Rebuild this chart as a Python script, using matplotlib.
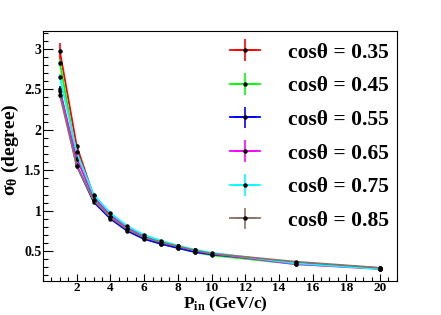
import matplotlib
matplotlib.use("Agg")
import matplotlib.pyplot as plt
import matplotlib.transforms as mtransforms
from matplotlib.ticker import MultipleLocator, FuncFormatter

# momentum points (GeV/c)
p_in = [1, 2, 3, 4, 5, 6, 7, 8, 9, 10, 15, 20]

cos_labels = ["0.35", "0.45", "0.55", "0.65", "0.75", "0.85"]
colors = ["#ff0000", "#00ff00", "#0000ff", "#ff00ff", "#00ffff", "#8b7365"]

# sigma_theta (degree) per cos(theta) bin
sig_035 = [2.97, 1.80, 1.18, 0.94, 0.78, 0.67, 0.60, 0.55, 0.50, 0.46, 0.35, 0.285]
sig_045 = [2.83, 1.66, 1.15, 0.93, 0.77, 0.66, 0.59, 0.54, 0.49, 0.45, 0.34, 0.29]
sig_055 = [2.50, 1.56, 1.11, 0.90, 0.75, 0.65, 0.59, 0.54, 0.49, 0.46, 0.36, 0.29]
sig_065 = [2.48, 1.64, 1.17, 0.95, 0.79, 0.69, 0.61, 0.56, 0.51, 0.47, 0.34, 0.28]
sig_075 = [2.65, 1.72, 1.20, 0.97, 0.81, 0.70, 0.63, 0.57, 0.52, 0.48, 0.35, 0.28]
sig_085 = [2.43, 1.55, 1.13, 0.92, 0.77, 0.67, 0.61, 0.56, 0.51, 0.47, 0.37, 0.295]

err_035 = [0.10, 0.03, 0.02, 0.02, 0.015, 0.015, 0.01, 0.01, 0.01, 0.01, 0.01, 0.01]
err_other = [0.04, 0.03, 0.02, 0.02, 0.015, 0.015, 0.01, 0.01, 0.01, 0.01, 0.01, 0.01]

series = [sig_035, sig_045, sig_055, sig_065, sig_075, sig_085]
errors = [err_035, err_other, err_other, err_other, err_other, err_other]

plt.rcParams["font.family"] = ["Liberation Serif", "DejaVu Serif"]
plt.rcParams["font.weight"] = "bold"
plt.rcParams["mathtext.fontset"] = "custom"
plt.rcParams["mathtext.rm"] = "Liberation Serif:bold"
plt.rcParams["mathtext.it"] = "Liberation Serif:bold"
plt.rcParams["mathtext.bf"] = "Liberation Serif:bold"

fig = plt.figure(figsize=(4.41, 3.15), dpi=100)
ax = fig.add_axes([0.0975, 0.108, 0.8025, 0.7937])

for ys, es, c, lab in zip(series, errors, colors, cos_labels):
    ax.errorbar(p_in, ys, yerr=es, xerr=0, color=c, ecolor=c, lw=1.3, elinewidth=1.2,
                marker="o", ms=2.2, mfc="k", mec="k", capsize=0,
                label="cos\u03b8 = " + lab)

ax.set_xlim(0, 21)
ax.set_ylim(0.132, 3.22)

ax.xaxis.set_major_locator(MultipleLocator(2))
ax.xaxis.set_minor_locator(MultipleLocator(0.5))
ax.yaxis.set_major_locator(MultipleLocator(0.5))
ax.yaxis.set_minor_locator(MultipleLocator(0.1))
ax.set_xticks([2, 4, 6, 8, 10, 12, 14, 16, 18, 20])
ax.yaxis.set_major_formatter(FuncFormatter(lambda v, pos: "%g" % v))

ax.tick_params(axis="x", which="major", direction="in", length=5.4, width=0.8,
               labelsize=9.5, pad=1)
ax.tick_params(axis="x", which="minor", direction="in", length=2.7, width=0.8)
ax.tick_params(axis="y", which="major", direction="in", length=7.2, width=0.8,
               labelsize=10, pad=1)
ax.tick_params(axis="y", which="minor", direction="in", length=3.6, width=0.8)

for sp in ax.spines.values():
    sp.set_linewidth(0.8)

ax.set_xlabel(r"$\mathrm{P_{in}}$ (GeV/c)", fontsize=12.5, fontweight="bold")
ax.set_ylabel(r"$\sigma_{\theta}$ (degree)", fontsize=14, fontweight="bold")
# keep the x title just above the bottom edge of the canvas
ax.xaxis.label.set_va("bottom")
ax.xaxis.set_label_coords(0.515, 0.004,
                          transform=mtransforms.blended_transform_factory(ax.transAxes, fig.transFigure))
ax.yaxis.set_label_coords(-0.062, 0.525)

leg = ax.legend(loc="upper right", frameon=False, handlelength=1.4,
                handletextpad=1.3, labelspacing=0.63, borderpad=0.2,
                borderaxespad=0.17, bbox_to_anchor=(1, 0.985),
                prop={"weight": "bold", "size": 15.5})

fig.savefig("out.png", dpi=100)
